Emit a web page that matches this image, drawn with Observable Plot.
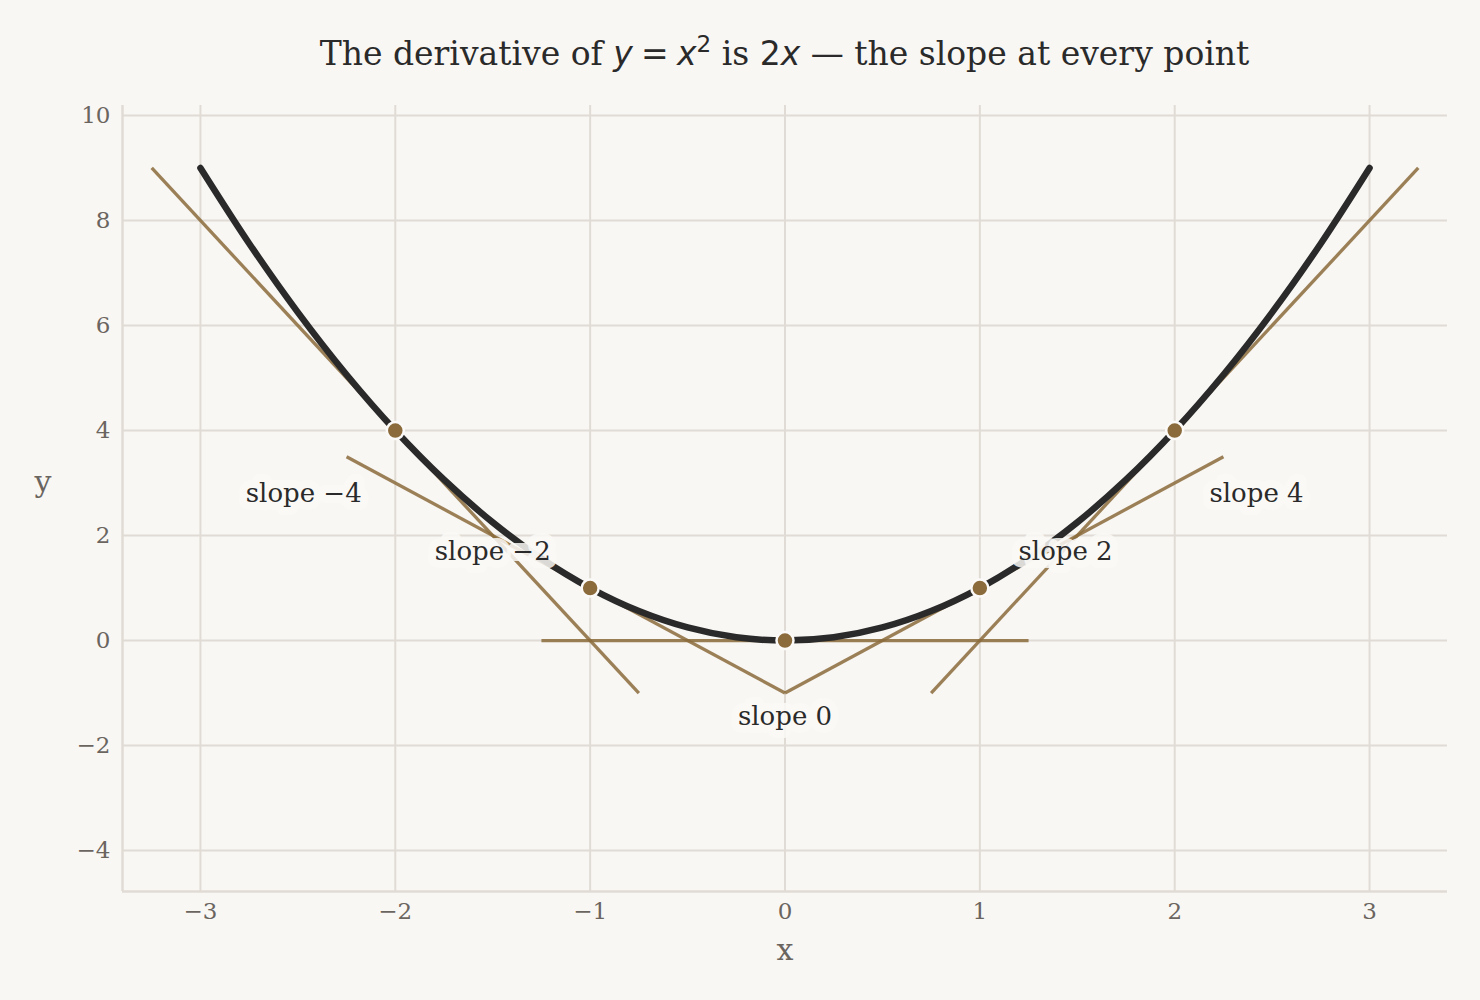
<!DOCTYPE html>
<html><head><meta charset="utf-8">
<script src="https://cdn.jsdelivr.net/npm/d3@7"></script>
<script src="https://cdn.jsdelivr.net/npm/@observablehq/plot@0.6"></script>
<style>
html,body{margin:0;padding:0;background:#f9f7f4;}
#title{height:90px;margin-left:122px;width:1325px;text-align:center;font-family:"DejaVu Serif";font-size:33px;color:#2a2a2a;line-height:1;padding-top:37px;box-sizing:border-box;white-space:nowrap;}
.m{font-family:"DejaVu Sans";}
.i{font-style:italic;}
sup{font-size:0.7em;line-height:0;vertical-align:0.55em;}
</style></head>
<body>
<div id="title">The derivative of <span class="m"><span class="i">y</span>&#8197;=&#8197;<span class="i">x</span><sup>2</sup></span> is <span class="m">2<span class="i">x</span></span> — the slope at every point</div>
<div id="chart"></div>
<script>
// curve values
const curveX = [-3,-2.75,-2.5,-2.25,-2,-1.75,-1.5,-1.25,-1,-0.75,-0.5,-0.25,0,0.25,0.5,0.75,1,1.25,1.5,1.75,2,2.25,2.5,2.75,3];
const curveY = [9,7.5625,6.25,5.0625,4,3.0625,2.25,1.5625,1,0.5625,0.25,0.0625,0,0.0625,0.25,0.5625,1,1.5625,2.25,3.0625,4,5.0625,6.25,7.5625,9];
// tangent points
const pointX = [-2,-1,0,1,2];
const pointY = [4,1,0,1,4];
const slopes = [-4,-2,0,2,4];
const halfWidth = 1.25;
const floorY = -1;
// labels
const labelText = ["slope −4","slope −2","slope 0","slope 2","slope 4"];
const labelX = [-2.47,-1.5,0,1.44,2.42];
const labelY = [2.8,1.7,-1.45,1.7,2.8];
// ticks / domains
const xTicks = [-3,-2,-1,0,1,2,3];
const yTicks = [-4,-2,0,2,4,6,8,10];
const xDomain = [-3.4,3.4];
const yDomain = [-4.78,10.19];

const curve = curveX.map((x,i)=>({x, y: curveY[i]}));
const points = pointX.map((x,i)=>({x, y: pointY[i]}));
const segments = pointX.map((x0,i)=>{
  const m = slopes[i], y0 = pointY[i];
  let xa = x0 - halfWidth, xb = x0 + halfWidth;
  if (m < 0) xb = Math.min(xb, x0 + (floorY - y0)/m);
  if (m > 0) xa = Math.max(xa, x0 + (floorY - y0)/m);
  return {x1: xa, y1: y0 + m*(xa - x0), x2: xb, y2: y0 + m*(xb - x0)};
});
const labels = labelText.map((t,i)=>({text:t, x:labelX[i], y:labelY[i]}));
const fmt = d => d < 0 ? "−" + Math.abs(d) : String(d);
const grid = "#e0dcd5";

const chart = Plot.plot({
  width: 1480, height: 910,
  marginTop: 15, marginBottom: 109, marginLeft: 122, marginRight: 33,
  style: {fontFamily: "DejaVu Serif", background: "#f9f7f4", overflow: "visible"},
  x: {domain: xDomain},
  y: {domain: yDomain},
  marks: [
    Plot.gridX(xTicks, {stroke: grid, strokeOpacity: 1, strokeWidth: 2}),
    Plot.gridY(yTicks, {stroke: grid, strokeOpacity: 1, strokeWidth: 2}),
    Plot.ruleX([xDomain[0]], {stroke: grid, strokeWidth: 2.5}),
    Plot.ruleY([yDomain[0]], {stroke: grid, strokeWidth: 2.5}),
    Plot.axisX(xTicks, {tickSize: 0, tickPadding: 11, fontSize: 23, fill: "#6b6560", label: null, tickFormat: fmt}),
    Plot.axisY(yTicks, {tickSize: 0, tickPadding: 12, fontSize: 23, fill: "#6b6560", label: null, tickFormat: fmt}),
    Plot.link(segments, {x1: "x1", y1: "y1", x2: "x2", y2: "y2", stroke: "#8b6b3b", strokeOpacity: 0.85, strokeWidth: 3.3}),
    Plot.line(curve, {x: "x", y: "y", curve: "catmull-rom", stroke: "#2a2a2a", strokeWidth: 6.5}),
    Plot.dot(points, {x: "x", y: "y", r: 8.5, fill: "#8b6b3b", stroke: "#fbfaf8", strokeWidth: 2.5}),
    Plot.text(labels, {x: "x", y: "y", text: "text", fill: "#2a2a2a", stroke: "#fbfaf7", strokeOpacity: 0.85, strokeWidth: 16, fontSize: 26, fontFamily: "DejaVu Serif"}),
    Plot.text(["x"], {frameAnchor: "bottom", dy: 68, text: d => d, fontSize: 30, fill: "#6b6560"}),
    Plot.text(["y"], {frameAnchor: "left", dx: -88, dy: -16, text: d => d, fontSize: 30, fill: "#6b6560"})
  ]
});
document.getElementById("chart").append(chart);
</script>
</body></html>
